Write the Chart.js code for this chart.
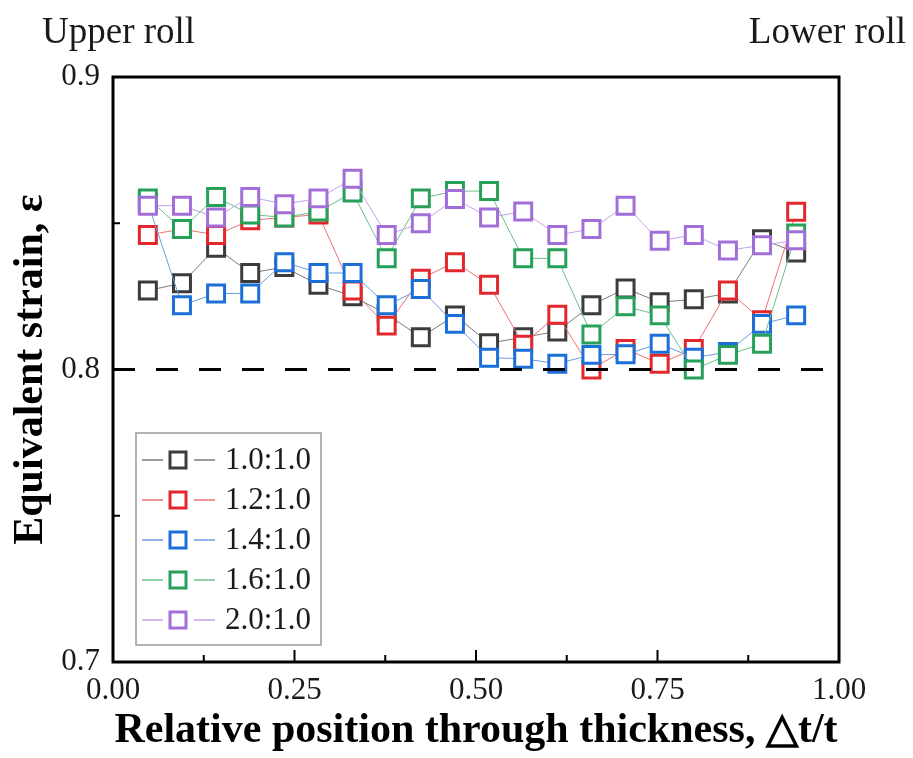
<!DOCTYPE html>
<html>
<head>
<meta charset="utf-8">
<script src="https://cdn.jsdelivr.net/npm/chart.js@4.4.1/dist/chart.umd.min.js"></script>
<style>
  html, body { margin: 0; padding: 0; background: #fff; }
  #wrap { width: 913px; height: 758px; position: relative; }
</style>
</head>
<body>
<div id="wrap"><canvas id="chart" width="913" height="758"></canvas></div>
<script>
// positions through thickness (same for every series)
const positions = [0.048, 0.095, 0.142, 0.189, 0.236, 0.283, 0.330, 0.377, 0.424, 0.471,
                   0.518, 0.565, 0.612, 0.659, 0.706, 0.753, 0.800, 0.847, 0.894, 0.941];

const seriesNames = ["1.0:1.0", "1.2:1.0", "1.4:1.0", "1.6:1.0", "2.0:1.0"];

const strain10 = [0.827, 0.8295, 0.8416, 0.833, 0.835, 0.829, 0.825, 0.819, 0.811, 0.8185,
                  0.809, 0.811, 0.813, 0.822, 0.8277, 0.823, 0.824, 0.826, 0.8445, 0.840];
const strain12 = [0.846, 0.848, 0.846, 0.851, 0.852, 0.853, 0.827, 0.815, 0.831, 0.8367,
                  0.829, 0.8085, 0.8187, 0.800, 0.807, 0.802, 0.807, 0.827, 0.8168, 0.8539];
const strain14 = [0.857, 0.822, 0.826, 0.826, 0.8367, 0.833, 0.833, 0.822, 0.8275, 0.8156,
                  0.804, 0.8037, 0.802, 0.805, 0.8052, 0.8088, 0.804, 0.806, 0.8156, 0.8185];
const strain16 = [0.8585, 0.848, 0.859, 0.853, 0.852, 0.854, 0.8605, 0.838, 0.8585, 0.861,
                  0.861, 0.838, 0.838, 0.812, 0.8216, 0.8185, 0.800, 0.805, 0.8088, 0.8465];
const strain20 = [0.856, 0.856, 0.852, 0.859, 0.8565, 0.8585, 0.8652, 0.846, 0.850, 0.8583,
                  0.852, 0.854, 0.846, 0.848, 0.856, 0.844, 0.846, 0.8407, 0.8425, 0.8442];

// reference level (dashed line)
const refX = [0, 1];
const refY = [0.8, 0.8];

const xTickLabels = ["0.00", "0.25", "0.50", "0.75", "1.00"];
const yTickLabels = ["0.7", "0.8", "0.9"];

const markerColors = ["#3c3c3c", "#e2282c", "#1d6fd8", "#27a05a", "#a26fd9"];
const lineColors = ["#7a7a7a", "#ea7070", "#6c9be0", "#6cbf8c", "#c3a2ea"];

const serif = "'Liberation Serif', 'Times New Roman', serif";

const allSeries = [strain10, strain12, strain14, strain16, strain20];

const datasets = allSeries.map((vals, i) => ({
  label: seriesNames[i],
  data: vals.map((v, k) => ({ x: positions[k], y: v })),
  borderColor: lineColors[i],
  borderWidth: 1,
  pointStyle: "rect",
  pointRadius: 12,
  pointHoverRadius: 12,
  pointBorderWidth: 3,
  pointBorderColor: markerColors[i],
  pointBackgroundColor: "#ffffff",
  tension: 0,
  fill: false,
  order: 5 - i
}));

datasets.push({
  label: "ref",
  data: refX.map((x, k) => ({ x: x, y: refY[k] })),
  borderColor: "#000",
  borderWidth: 3,
  borderDash: [22, 21],
  pointRadius: 0,
  fill: false,
  order: 0
});

// frame, inner ticks, legend and the roll labels
const decorations = {
  id: "decorations",
  afterDraw(chart) {
    const ctx = chart.ctx;
    const a = chart.chartArea;
    const xs = chart.scales.x, ys = chart.scales.y;
    ctx.save();
    ctx.strokeStyle = "#000";
    ctx.lineWidth = 2;
    // x ticks (major 0.25, minor 0.125)
    for (let i = 1; i < 8; i++) {
      const px = xs.getPixelForValue(i * 0.125);
      const len = i % 2 === 0 ? 12 : 7;
      ctx.beginPath(); ctx.moveTo(px, a.bottom); ctx.lineTo(px, a.bottom - len); ctx.stroke();
    }
    // y ticks (major 0.1, minor 0.05)
    [0.75, 0.8, 0.85].forEach(v => {
      const py = ys.getPixelForValue(v);
      const len = Math.abs(v - 0.8) < 1e-9 ? 12 : 7;
      ctx.beginPath(); ctx.moveTo(a.left, py); ctx.lineTo(a.left + len, py); ctx.stroke();
    });
    ctx.lineWidth = 3;
    ctx.strokeRect(a.left, a.top, a.right - a.left, a.bottom - a.top);

    // legend
    const lx = 136, ly = 433, lw = 185, lh = 212;
    ctx.fillStyle = "#fff";
    ctx.fillRect(lx, ly, lw, lh);
    ctx.lineWidth = 1.5;
    ctx.strokeStyle = "#9a9a9a";
    ctx.strokeRect(lx, ly, lw, lh);
    ctx.font = "31px " + serif;
    ctx.textBaseline = "middle";
    chart.data.datasets.slice(0, seriesNames.length).forEach((ds, i) => {
      const y = 460 + i * 40;
      ctx.strokeStyle = ds.borderColor;
      ctx.lineWidth = 1.5;
      ctx.beginPath(); ctx.moveTo(142, y); ctx.lineTo(163, y); ctx.stroke();
      ctx.beginPath(); ctx.moveTo(194, y); ctx.lineTo(215, y); ctx.stroke();
      ctx.strokeStyle = ds.pointBorderColor;
      ctx.lineWidth = 3;
      ctx.strokeRect(170, y - 8, 16, 16);
      ctx.fillStyle = "#1a1a1a";
      ctx.fillText(ds.label, 225, y + 1);
    });

    // roll labels
    ctx.fillStyle = "#1a1a1a";
    ctx.font = "37px " + serif;
    ctx.textBaseline = "alphabetic";
    ctx.textAlign = "left";
    ctx.fillText("Upper roll", 42, 43);
    ctx.textAlign = "right";
    ctx.fillText("Lower roll", 906, 43);
    ctx.restore();
  }
};

new Chart(document.getElementById("chart"), {
  type: "line",
  data: { datasets: datasets },
  options: {
    responsive: false,
    animation: false,
    events: [],
    layout: { padding: { top: 77, right: 74, left: 0, bottom: 0 } },
    plugins: { legend: { display: false }, tooltip: { enabled: false } },
    scales: {
      x: {
        type: "linear",
        min: 0, max: 1,
        afterFit: s => { s.height = 96; },
        grid: { display: false, drawTicks: false },
        border: { display: false },
        ticks: {
          stepSize: 0.25,
          padding: 10,
          color: "#1a1a1a",
          font: { family: serif, size: 31 },
          maxRotation: 0,
          callback: v => xTickLabels[Math.round(v / 0.25)]
        },
        title: {
          display: true,
          text: "Relative position through thickness, \u25B3t/t",
          color: "#000",
          font: { family: serif, size: 42, weight: "bold" },
          padding: { top: 0, bottom: 2 }
        }
      },
      y: {
        min: 0.7, max: 0.9,
        afterFit: s => { s.width = 113; },
        grid: { display: false, drawTicks: false },
        border: { display: false },
        ticks: {
          stepSize: 0.1,
          padding: 13,
          color: "#1a1a1a",
          font: { family: serif, size: 31 },
          callback: v => yTickLabels[Math.round((v - 0.7) / 0.1)]
        },
        title: {
          display: true,
          text: "Equivalent strain, \u03B5",
          color: "#000",
          font: { family: serif, size: 42, weight: "bold" },
          padding: { top: 6, bottom: 0 }
        }
      }
    }
  },
  plugins: [decorations]
});
</script>
</body>
</html>
